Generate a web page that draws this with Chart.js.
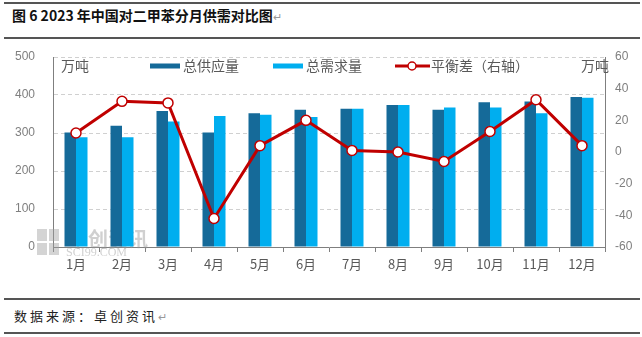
<!DOCTYPE html>
<html>
<head>
<meta charset="utf-8">
<script src="https://cdn.jsdelivr.net/npm/chart.js@4.4.1/dist/chart.umd.min.js"></script>
<style>
  html, body { margin: 0; padding: 0; background: #fff; }
  body { width: 642px; height: 337px; position: relative; overflow: hidden;
         font-family: "Noto Sans CJK SC", "Noto Sans", sans-serif; }
  .rule { position: absolute; left: 4px; width: 636px; height: 2px; background: #555; }
  #title { position: absolute; left: 12px; top: 5px; font-size: 14px; font-weight: bold; color: #111; }
  #source { position: absolute; left: 14px; top: 306px; font-size: 13px; letter-spacing: 3px; color: #222; }
  .ret { color: #999; font-weight: normal; font-size: 11px; letter-spacing: 0; }
  #wrap { position: absolute; left: 0; top: 40px; width: 642px; height: 250px; }
</style>
</head>
<body>
<div class="rule" style="top:2px"></div>
<div id="title">图 6 2023 年中国对二甲苯分月供需对比图<span class="ret">↵</span></div>
<div class="rule" style="top:37px"></div>
<div id="wrap"><canvas id="chart"></canvas></div>
<div class="rule" style="top:298px"></div>
<div id="source">数据来源：卓创资讯<span class="ret">↵</span></div>
<div class="rule" style="top:332px"></div>
<script>
const months = ['1月', '2月', '3月', '4月', '5月', '6月', '7月', '8月', '9月', '10月', '11月', '12月'];
const supply = [301, 319, 358, 301, 352, 361, 364, 374, 361, 381, 383, 395];
const demand = [289, 289, 330, 345, 348, 342, 364, 374, 367, 367, 352, 393];
const balance = [12, 32, 31, -42, 4, 20, 1, 0, -6, 13, 33, 4];

const leftTicks = [0, 100, 200, 300, 400, 500];
const rightTicks = [-60, -40, -20, 0, 20, 40, 60];

const darkBlue = '#156a99';
const lightBlue = '#00aeef';
const red = '#c00000';
const tickGrey = '#7f7f7f';
const textGrey = '#595959';

// label padding on a vertical axis also pads its top/bottom, undo that
function fixAxis(width) {
    return (scale) => {
        scale.width = width;
        scale.paddingTop = 0;
        scale.paddingBottom = 0;
    };
}

// legend, unit captions and watermark are drawn by hand
const extras = {
    id: 'extras',
    beforeDatasetsDraw(chart) {
        const ctx = chart.ctx;
        ctx.save();
        // faint logo watermark in the lower left corner, under the bars
        ctx.fillStyle = 'rgba(160,160,160,0.45)';
        ctx.fillRect(37, 189, 10, 12); ctx.fillRect(49, 189, 10, 12);
        ctx.fillRect(37, 203, 10, 12); ctx.fillRect(49, 203, 10, 12);
        ctx.fillStyle = 'rgba(150,150,150,0.45)';
        ctx.font = 'bold 20px "Noto Sans CJK SC"';
        ctx.textBaseline = 'middle';
        ctx.fillText('卓创资讯', 68, 199);
        ctx.font = '12px "Liberation Serif"';
        ctx.fillText('SCI99.COM', 66, 213);
        ctx.restore();
    },
    afterDraw(chart) {
        const ctx = chart.ctx;
        ctx.save();
        ctx.font = '14px "Noto Sans CJK SC"';
        ctx.fillStyle = textGrey;
        ctx.textBaseline = 'middle';
        const y = 26;
        ctx.fillText('万吨', 61, y);
        ctx.fillText('万吨', 581, y);

        ctx.fillStyle = darkBlue;
        ctx.fillRect(150, y - 2.5, 30, 5);
        ctx.fillStyle = textGrey;
        ctx.fillText('总供应量', 183, y);

        ctx.fillStyle = lightBlue;
        ctx.fillRect(273, y - 2.5, 30, 5);
        ctx.fillStyle = textGrey;
        ctx.fillText('总需求量', 306, y);

        ctx.strokeStyle = red;
        ctx.lineWidth = 3;
        ctx.beginPath();
        ctx.moveTo(395, y); ctx.lineTo(430, y);
        ctx.stroke();
        ctx.beginPath();
        ctx.arc(412, y, 4, 0, Math.PI * 2);
        ctx.fillStyle = '#fff';
        ctx.fill();
        ctx.lineWidth = 1.5;
        ctx.stroke();
        ctx.fillStyle = textGrey;
        ctx.fillText('平衡差（右轴）', 431, y);
        ctx.restore();
    }
};

const canvas = document.getElementById('chart');
const chart = new Chart(canvas, {
    type: 'bar',
    data: {
        labels: months,
        datasets: [
            {
                type: 'line',
                label: '平衡差（右轴）',
                data: balance,
                yAxisID: 'y2',
                borderColor: red,
                borderWidth: 3,
                pointRadius: 5,
                pointBackgroundColor: '#fff',
                pointBorderColor: red,
                pointBorderWidth: 1.5,
                tension: 0,
                order: 0
            },
            {
                label: '总供应量',
                data: supply,
                backgroundColor: darkBlue,
                yAxisID: 'y',
                categoryPercentage: 0.5,
                barPercentage: 1.0,
                order: 1
            },
            {
                label: '总需求量',
                data: demand,
                backgroundColor: lightBlue,
                yAxisID: 'y',
                categoryPercentage: 0.5,
                barPercentage: 1.0,
                order: 1
            }
        ]
    },
    options: {
        responsive: true,
        maintainAspectRatio: false,
        animation: false,
        layout: { padding: { top: 17, bottom: 0, left: 0, right: 0 } },
        plugins: {
            legend: { display: false },
            tooltip: { enabled: false }
        },
        scales: {
            x: {
                grid: { offset: true, drawOnChartArea: false, tickLength: 5, color: tickGrey },
                border: { color: tickGrey, width: 1 },
                ticks: { color: textGrey, font: { size: 13, family: 'Noto Sans CJK SC' }, padding: 4, maxRotation: 0 },
                afterFit: (scale) => { scale.height = 43; }
            },
            y: {
                position: 'left',
                min: 0,
                max: 500,
                afterBuildTicks: (scale) => { scale.ticks = leftTicks.map((v) => ({value: v})); },
                grid: {
                    color: (c) => c.tick.value === 0 ? 'rgba(0,0,0,0)' : '#d0d0d0',
                    drawTicks: false
                },
                border: { color: tickGrey, width: 1, dash: [4, 3] },
                ticks: { color: tickGrey, font: { size: 12, family: 'Liberation Sans' }, padding: 18 },
                afterFit: fixAxis(53)
            },
            y2: {
                position: 'right',
                min: -60,
                max: 60,
                afterBuildTicks: (scale) => { scale.ticks = rightTicks.map((v) => ({value: v})); },
                grid: { drawOnChartArea: false, drawTicks: false },
                border: { color: tickGrey, width: 1 },
                ticks: { color: tickGrey, font: { size: 12, family: 'Liberation Sans' }, padding: 10 },
                afterFit: fixAxis(37)
            }
        }
    },
    plugins: [extras]
});
</script>
</body>
</html>
